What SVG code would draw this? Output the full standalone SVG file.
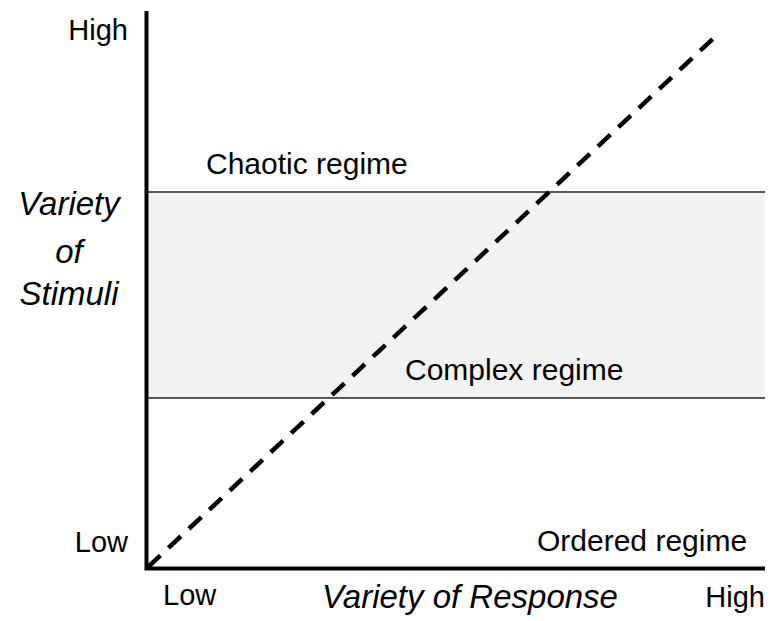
<svg xmlns="http://www.w3.org/2000/svg" width="774" height="621" viewBox="0 0 774 621">
  <style>
    .lbl { font-family: "Liberation Sans", Arial, sans-serif; fill: #000; }
    .tick { font-size: 29px; }
    .regime { font-size: 30px; }
    .axis-title { font-size: 33px; font-style: italic; }
    .axis { stroke: #000; stroke-width: 4; fill: none; }
    .band-edge { stroke: #222; stroke-width: 1.5; fill: none; }
  </style>

  <!-- complex regime band -->
  <g id="complex-band">
    <rect x="148" y="192" width="617" height="206" fill="#f2f2f2"/>
  </g>

  <g id="connectors">
    <line class="band-edge" x1="148" y1="192" x2="765" y2="192"/>
    <line class="band-edge" x1="148" y1="398" x2="765" y2="398"/>
    <!-- diagonal: variety of response equals variety of stimuli -->
    <line x1="148" y1="567" x2="717" y2="35" stroke="#000" stroke-width="4.5" stroke-dasharray="17 11"/>
    <!-- axes -->
    <polyline class="axis" points="146.5,11 146.5,568.5 765,568.5"/>
  </g>

  <g id="y-axis-labels">
    <text class="lbl tick" x="128" y="40" text-anchor="end">High</text>
    <text class="lbl tick" x="128" y="552" text-anchor="end">Low</text>
    <text class="lbl axis-title" x="69" y="215" text-anchor="middle">Variety</text>
    <text class="lbl axis-title" x="69" y="263" text-anchor="middle">of</text>
    <text class="lbl axis-title" x="69" y="305" text-anchor="middle">Stimuli</text>
  </g>

  <g id="x-axis-labels">
    <text class="lbl tick" x="163" y="605">Low</text>
    <text class="lbl tick" x="765" y="607" text-anchor="end">High</text>
    <text class="lbl axis-title" x="322" y="608">Variety of Response</text>
  </g>

  <g id="chaotic-regime">
    <text class="lbl regime" x="206" y="174">Chaotic regime</text>
  </g>
  <g id="complex-regime">
    <text class="lbl regime" x="405" y="380">Complex regime</text>
  </g>
  <g id="ordered-regime">
    <text class="lbl regime" x="537" y="551">Ordered regime</text>
  </g>
</svg>
